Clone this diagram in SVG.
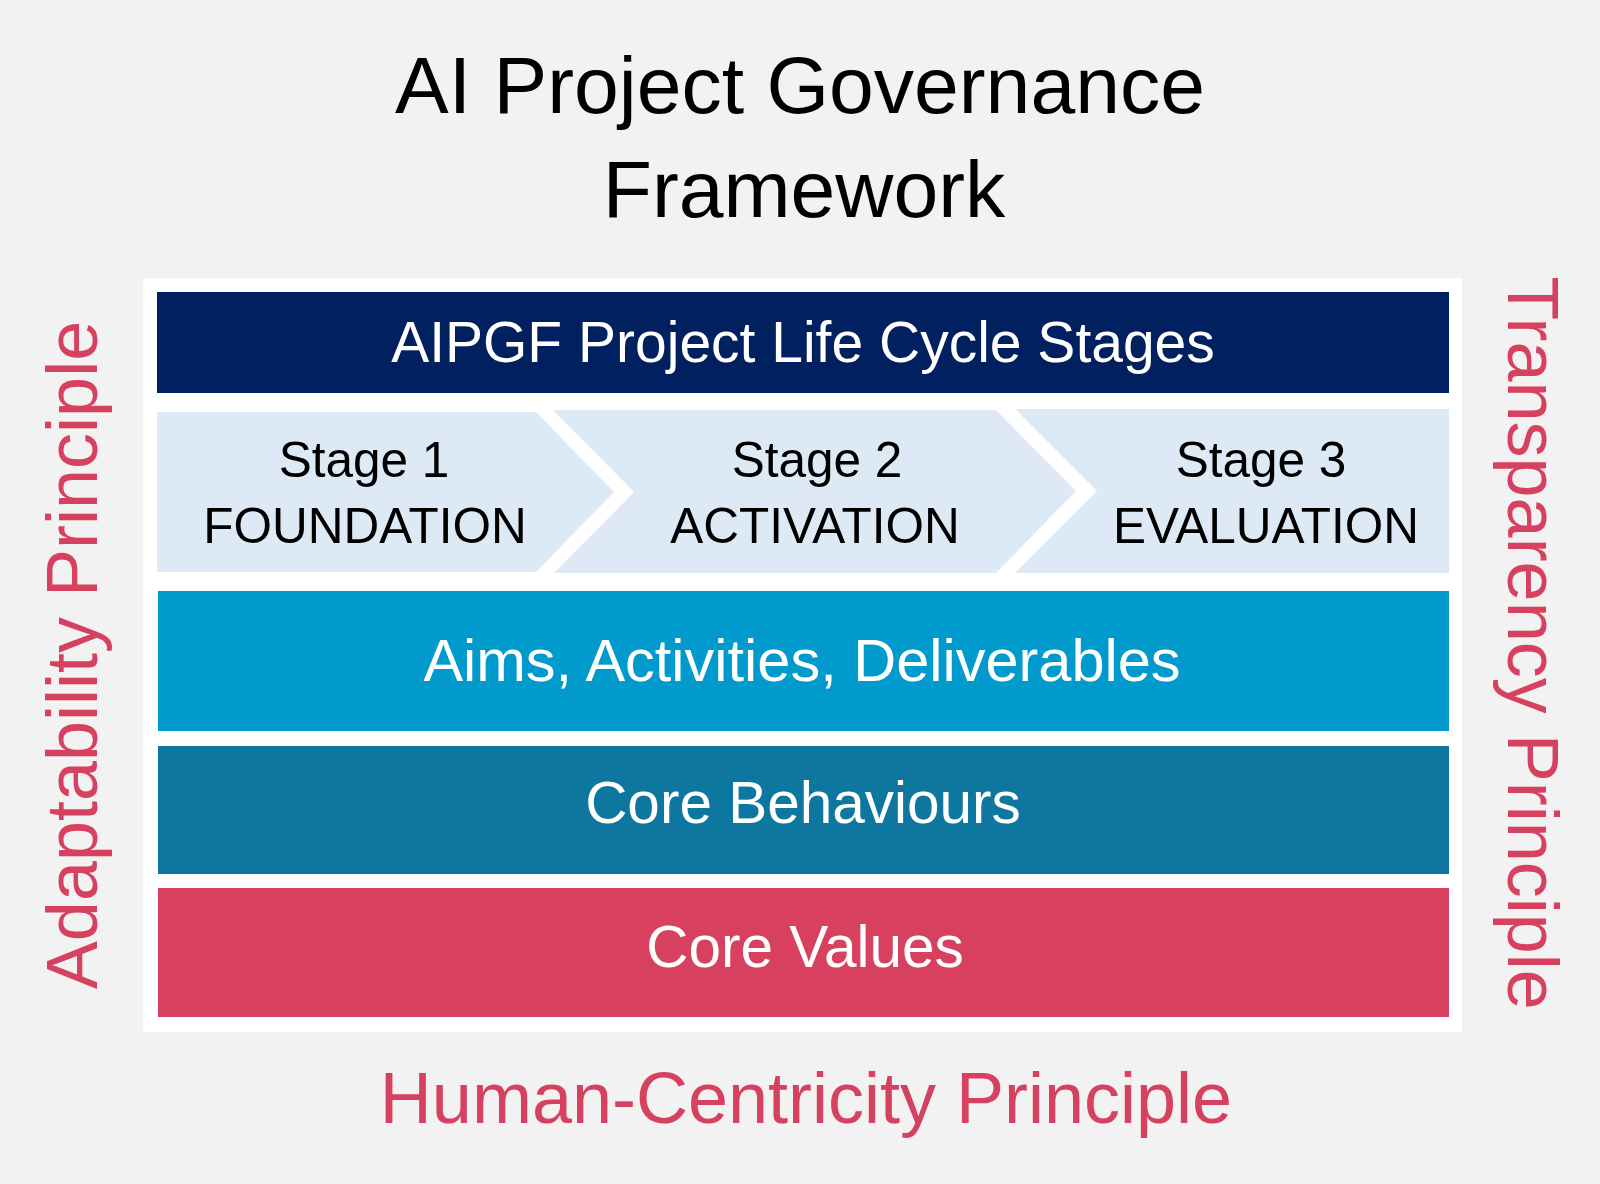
<svg xmlns="http://www.w3.org/2000/svg" width="1600" height="1184" viewBox="0 0 1600 1184">
  <style>
    text { font-family: "Liberation Sans", Arial, sans-serif; text-anchor: middle; }
    .title { font-size: 80.5px; fill: #000000; }
    .band-text { fill: #FFFFFF; }
    .stage { fill: #DDEAF6; }
    .stage-text { font-size: 49.5px; fill: #000000; }
    .principle { font-size: 72px; fill: #D6415F; }
  </style>
  <rect x="0" y="0" width="1600" height="1184" fill="#F2F2F2"/>

  <g id="title">
    <text class="title" x="800" y="113">AI Project Governance</text>
    <text class="title" x="804" y="217">Framework</text>
  </g>

  <g id="frame">
    <rect x="143" y="278" width="1319" height="754" fill="#FFFFFF"/>
  </g>

  <g id="lifecycle-header">
    <rect x="157" y="292" width="1292" height="101" fill="#002060"/>
    <text class="band-text" x="803" y="362" font-size="57">AIPGF Project Life Cycle Stages</text>
  </g>

  <g id="stage1">
    <polygon class="stage" points="157,412 536,412 614,492 536,572 157,572"/>
    <text class="stage-text" x="364" y="477">Stage 1</text>
    <text class="stage-text" x="365" y="543">FOUNDATION</text>
  </g>

  <g id="stage2">
    <polygon class="stage" points="553,410 996,410 1076,491 996,573 554,573 634,492"/>
    <text class="stage-text" x="817" y="477">Stage 2</text>
    <text class="stage-text" x="815" y="543">ACTIVATION</text>
  </g>

  <g id="stage3">
    <polygon class="stage" points="1015,409 1449,409 1449,573 1015,573 1097,491"/>
    <text class="stage-text" x="1261" y="477">Stage 3</text>
    <text class="stage-text" x="1266" y="543">EVALUATION</text>
  </g>

  <g id="aims">
    <rect x="158" y="591" width="1291" height="140" fill="#009ACD"/>
    <text class="band-text" x="802" y="681" font-size="59.5">Aims, Activities, Deliverables</text>
  </g>

  <g id="behaviours">
    <rect x="158" y="746" width="1291" height="128" fill="#0E77A0"/>
    <text class="band-text" x="803" y="823" font-size="58.5">Core Behaviours</text>
  </g>

  <g id="values">
    <rect x="158" y="888" width="1291" height="129" fill="#D84060"/>
    <text class="band-text" x="805" y="967" font-size="58.5">Core Values</text>
  </g>

  <g id="adaptability">
    <text class="principle" transform="translate(97,655) rotate(-90)" x="0" y="0" font-size="73">Adaptability Principle</text>
  </g>

  <g id="transparency">
    <text class="principle" transform="translate(1508,643) rotate(90)" x="0" y="0" font-size="71.5">Transparency Principle</text>
  </g>

  <g id="human-centricity">
    <text class="principle" x="806" y="1123" font-size="74">Human-Centricity Principle</text>
  </g>
</svg>
